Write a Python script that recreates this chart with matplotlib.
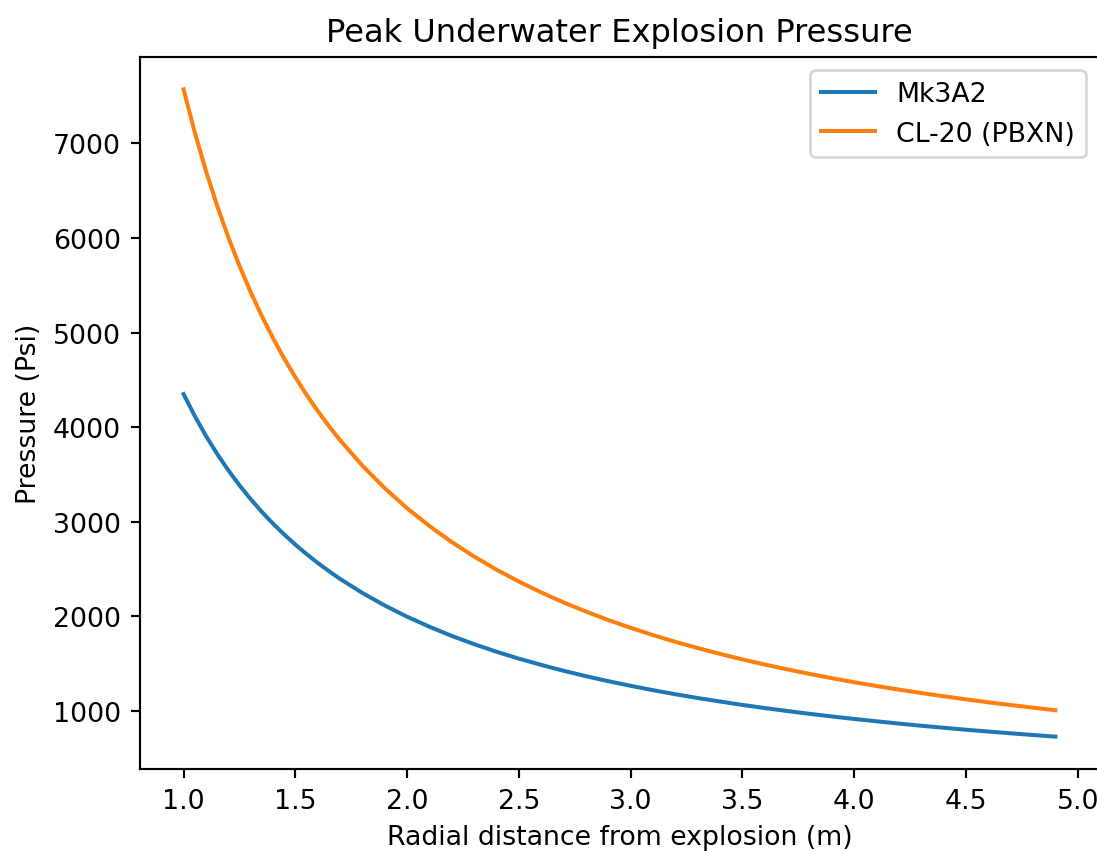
import matplotlib
matplotlib.use("Agg")
from matplotlib import pyplot as plt

radius = [1.0, 1.05, 1.1, 1.15, 1.2, 1.25, 1.3, 1.35, 1.4, 1.45, 1.5, 1.55, 1.6, 1.65, 1.7, 1.8, 1.9,
          2.0, 2.1, 2.2, 2.3, 2.4, 2.5, 2.6, 2.7, 2.8, 2.9,
          3.0, 3.1, 3.2, 3.3, 3.4, 3.5, 3.6, 3.7, 3.8, 3.9,
          4.0, 4.1, 4.2, 4.3, 4.4, 4.5, 4.6, 4.7, 4.8, 4.9]

mk3a2 = [4350, 4118, 3908, 3718, 3545, 3386, 3240, 3105, 2981, 2866, 2759, 2659, 2566, 2479, 2397, 2248, 2116,
         1997, 1891, 1794, 1707, 1627, 1554, 1488, 1426, 1369, 1316,
         1267, 1221, 1178, 1138, 1101, 1065, 1032, 1001, 971, 943,
         917, 892, 868, 845, 824, 803, 784, 765, 747, 730]

cl20 = [7570, 7116, 6708, 6341, 6007, 5705, 5428, 5174, 4941, 4726, 4527, 4343, 4171, 4012, 3863, 3593, 3355,
        3143, 2955, 2785, 2633, 2494, 2369, 2254, 2148, 2052, 1962,
        1880, 1803, 1732, 1666, 1604, 1546, 1492, 1441, 1393, 1348,
        1305, 1265, 1227, 1191, 1157, 1124, 1093, 1064, 1036, 1009]

dpi = 193
fig = plt.figure(figsize=(1097 / dpi, 852 / dpi), dpi=dpi)
# the right spine sits just past the image edge in the reference
ax = fig.add_axes([140 / 1097, (852 - 770) / 852, 959 / 1097, 712 / 852])

ax.plot(radius, mk3a2, label='Mk3A2')
ax.plot(radius, cl20, label='CL-20 (PBXN)')

ax.set_title("Peak Underwater Explosion Pressure")
ax.set_xlabel("Radial distance from explosion (m)")
ax.set_ylabel("Pressure (Psi)")
ax.legend()

fig.savefig("out.png", dpi=dpi)
